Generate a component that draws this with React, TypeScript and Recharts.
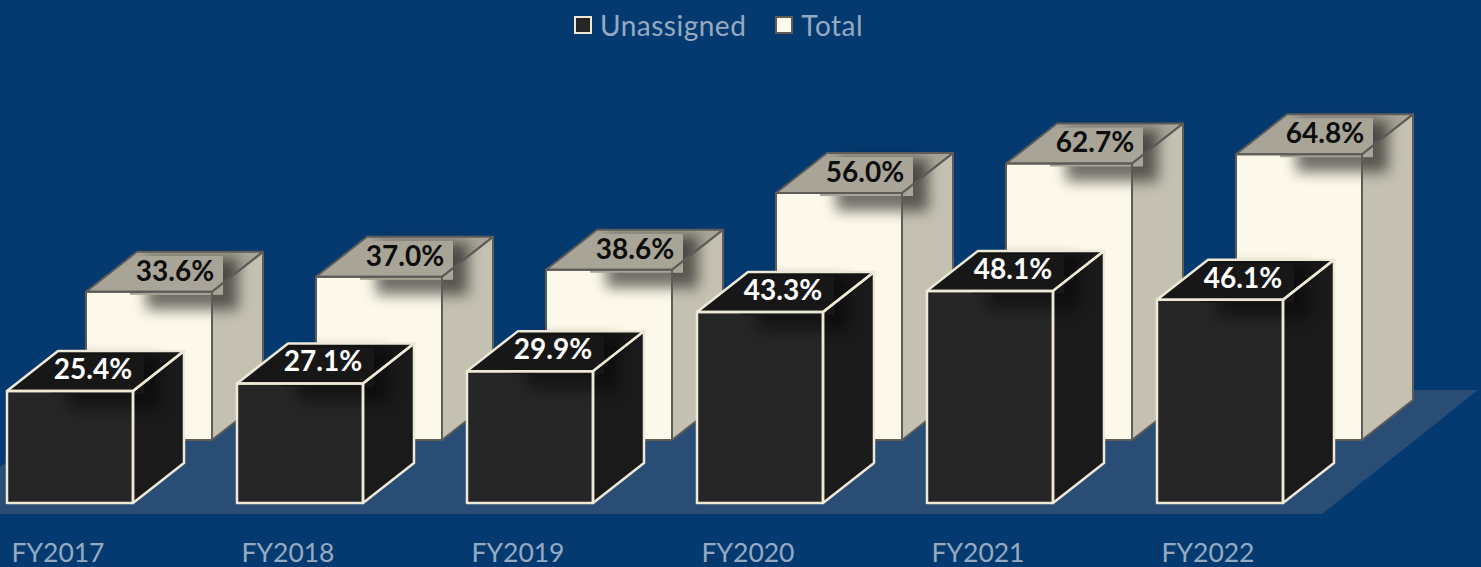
import { BarChart, Bar, XAxis, YAxis, Legend, LabelList, Customized } from 'recharts'

const categories = ['FY2017', 'FY2018', 'FY2019', 'FY2020', 'FY2021', 'FY2022']
const unassigned = [25.4, 27.1, 29.9, 43.3, 48.1, 46.1]
const total = [33.6, 37.0, 38.6, 56.0, 62.7, 64.8]

const data = categories.map((name, i) => ({ name, unassigned: unassigned[i], total: total[i] }))

const FONT = 'Lato, "Open Sans", sans-serif'
const DEPTH_X = 51
const DEPTH_Y = 40
// the Total row sits further back on the floor than the Unassigned row
const BACK_X = 79
const BACK_Y = -63

const FRONT = { front: '#262626', side: '#1a1a1a', top: '#171717', edge: '#eee8d6', edgeWidth: 2.5, shadow: 0.45 }
const BACK = { front: '#fdf9ea', side: '#c4c0b2', top: '#a8a498', edge: '#5c5c58', edgeWidth: 2, shadow: 0.55 }

function Box3D(props: any) {
  const { x, y, width, height, colors, dx = 0, dy = 0 } = props
  const l = x + dx
  const t = y + dy
  const r = l + width
  const b = t + height
  const frontPts = `${l},${t} ${r},${t} ${r},${b} ${l},${b}`
  const sidePts = `${r},${t} ${r + DEPTH_X},${t - DEPTH_Y} ${r + DEPTH_X},${b - DEPTH_Y} ${r},${b}`
  const topPts = `${l},${t} ${l + DEPTH_X},${t - DEPTH_Y} ${r + DEPTH_X},${t - DEPTH_Y} ${r},${t}`
  const line = { fill: 'none', stroke: colors.edge, strokeWidth: colors.edgeWidth, strokeLinejoin: 'round' as const }
  return (
    <g>
      <polygon points={frontPts} fill={colors.front} />
      <polygon points={sidePts} fill={colors.side} />
      <polygon points={topPts} fill={colors.top} />
      <rect x={l + 60} y={t - 34} width={92} height={52} fill="#000" opacity={colors.shadow} style={{ filter: 'blur(7px)' }} />
      <rect x={l + 44} y={t - 36} width={93} height={39} fill={colors.top} />
      <polygon points={frontPts} {...line} />
      <polygon points={sidePts} {...line} />
      <polygon points={topPts} {...line} />
    </g>
  )
}

function ValueLabel(props: any) {
  const { x, y, value, fill, dx = 0, dy = 0 } = props
  return (
    <text
      x={x + dx + 86}
      y={y + dy - 12}
      textAnchor="middle"
      fontFamily={FONT}
      fontSize={28}
      fontWeight={700}
      fill={fill}
    >
      {`${Number(value).toFixed(1)}%`}
    </text>
  )
}

function Floor() {
  return <polygon points="0,514 1322,514 1478,390 97,390 0,467" fill="#2a4d75" />
}

function CategoryTick({ x, y, payload }: any) {
  return (
    <text x={x - 12} y={y} textAnchor="middle" dominantBaseline="middle" fontFamily={FONT} fontSize={26.5} fill="#95aac2">
      {payload.value}
    </text>
  )
}

function LegendContent({ payload }: any) {
  const items = [...(payload ?? [])].reverse()
  return (
    <div style={{ display: 'flex', justifyContent: 'flex-start', paddingLeft: 574, fontFamily: FONT, fontSize: 28, letterSpacing: 0.5, color: '#95aac2', lineHeight: '34px' }}>
      {items.map((item: any) => (
        <div key={item.value} style={{ display: 'flex', alignItems: 'center', marginRight: 29 }}>
          <span
            style={{
              width: 14,
              height: 14,
              marginRight: 8,
              background: item.color,
              border: `2.5px solid ${item.value === 'Total' ? '#5c5c58' : '#eee8d6'}`,
            }}
          />
          {item.value}
        </div>
      ))}
    </div>
  )
}

export default function App() {
  return (
    <div style={{ position: 'absolute', left: 0, top: 0, width: 1481, height: 567, background: '#053a70', overflow: 'hidden' }}>
      <BarChart
        width={1481}
        height={567}
        data={data}
        barSize={126}
        barGap={-126}
        barCategoryGap={0}
        margin={{ top: 28, right: 146, bottom: 0, left: -45 }}
      >
        <Customized component={Floor} />
        <XAxis dataKey="name" axisLine={false} tickLine={false} height={64} tick={<CategoryTick />} tickMargin={46} interval={0} />
        <YAxis hide domain={[0, 100]} />
        <Legend
          verticalAlign="top"
          content={<LegendContent />}
          wrapperStyle={{ top: 8, left: 0, width: 1481 }}
        />
        <Bar
          dataKey="total"
          name="Total"
          fill="#fdf9ea"
          isAnimationActive={false}
          shape={(p: any) => <Box3D {...p} colors={BACK} dx={BACK_X} dy={BACK_Y} />}
        >
          <LabelList dataKey="total" content={(p: any) => <ValueLabel {...p} fill="#0d0d0d" dx={BACK_X + 3} dy={BACK_Y + 1} />} />
        </Bar>
        <Bar
          dataKey="unassigned"
          name="Unassigned"
          fill="#262626"
          isAnimationActive={false}
          shape={(p: any) => <Box3D {...p} colors={FRONT} />}
        >
          <LabelList dataKey="unassigned" content={(p: any) => <ValueLabel {...p} fill="#ffffff" />} />
        </Bar>
      </BarChart>
    </div>
  )
}
